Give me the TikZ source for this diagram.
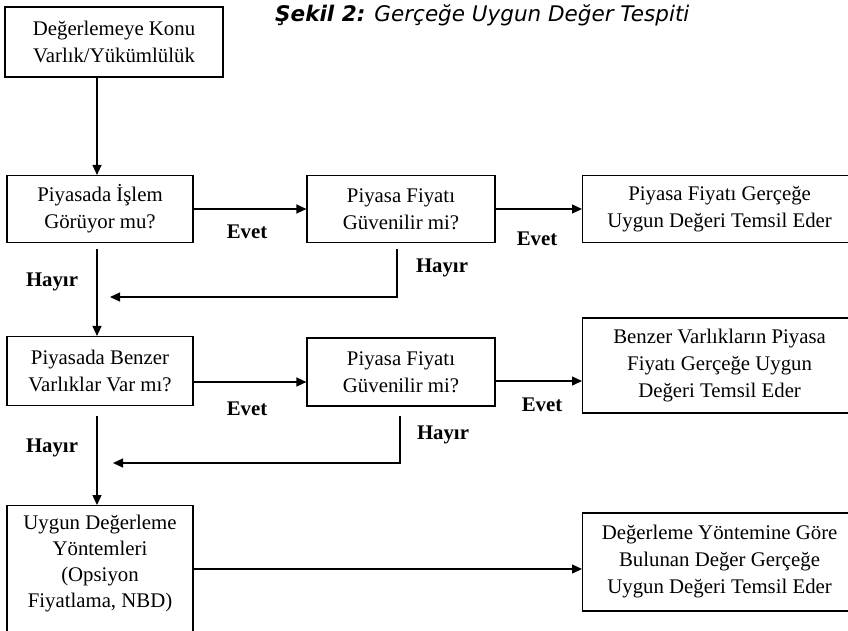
\documentclass[tikz,border=0pt]{standalone}
\usepackage{fontspec}
\setmainfont{Liberation Serif}
\newfontfamily\titlefont{DejaVu Sans}
\usetikzlibrary{arrows.meta,calc}
\begin{document}
\begin{tikzpicture}[x=1pt,y=-1pt,
  box/.style={draw, line width=1.2pt, inner sep=0pt, align=center, font=\fontsize{20.8}{27}\selectfont},
  txt/.style={inner sep=0pt, align=center, font=\fontsize{20.8}{26}\selectfont},
  lbl/.style={font=\fontsize{20.8}{24}\selectfont\bfseries, inner sep=0pt},
  arr/.style={line width=1.3pt, -{Triangle[length=10pt,width=9pt]}},
  ln/.style={line width=1.3pt}]
\useasboundingbox (0,0) rectangle (848,630);
\clip (0,0) rectangle (848,630);

% title
\node[anchor=base west, inner sep=0pt, font=\titlefont\fontsize{21.5}{25}\selectfont\itshape] (title) at (275,21)
  {{\bfseries Şekil 2:} Gerçeğe Uygun Değer Tespiti};

% boxes
\node[box, minimum width=218, minimum height=70] (A) at (114,42) {Değerlemeye Konu\\Varlık/Yükümlülük};
\node[box, minimum width=186, minimum height=67] (B) at (100,209) {Piyasada İşlem\\Görüyor mu?};
\node[box, minimum width=188, minimum height=67] (C) at (401,209) {Piyasa Fiyatı\\Güvenilir mi?};
\node[box, anchor=west, minimum width=274, minimum height=67] (D) at (582,209) {Piyasa Fiyatı Gerçeğe\\Uygun Değeri Temsil Eder};
\node[box, minimum width=186, minimum height=69] (E) at (100,371) {Piyasada Benzer\\Varlıklar Var mı?};
\node[box, minimum width=188, minimum height=68] (F) at (401,372) {Piyasa Fiyatı\\Güvenilir mi?};
\node[box, anchor=west, minimum width=274, minimum height=95] (G) at (582,365.5) {Benzer Varlıkların Piyasa\\Fiyatı Gerçeğe Uygun\\Değeri Temsil Eder};
\node[box, anchor=north, minimum width=186, minimum height=160] (H) at (100,505) {};
\node[txt] (Htext) at (100,563.5) {Uygun Değerleme\\Yöntemleri\\(Opsiyon\\Fiyatlama, NBD)};
\node[box, anchor=west, minimum width=274, minimum height=98] (I) at (582,562) {Değerleme Yöntemine Göre\\Bulunan Değer Gerçeğe\\Uygun Değeri Temsil Eder};

% labels
\node[lbl] (e1) at (247,232) {Evet};
\node[lbl] (e2) at (537,239) {Evet};
\node[lbl] (e3) at (247,409) {Evet};
\node[lbl] (e4) at (542,405) {Evet};
\node[lbl] (h1) at (52,282) {Hayır};
\node[lbl] (h2) at (442,268) {Hayır};
\node[lbl] (h3) at (52,448) {Hayır};
\node[lbl] (h4) at (443,435) {Hayır};

% helper coordinates
\coordinate (vx) at (97,0);
\coordinate (cx) at (397,0);
\coordinate (r1) at (110,297);
\coordinate (cx2) at (400,0);
\coordinate (r2) at (113,463);
\coordinate (ey) at (0,382);
\coordinate (fy) at (0,381);
\coordinate (hy) at (0,569);

% connectors
\draw[arr] (A.south -| vx) -- (B.north -| vx);
\draw[arr] (B.east) -- (C.west);
\draw[arr] (C.east) -- (D.west);
\draw[arr, shorten <=6pt] (B.south -| vx) -- (E.north -| vx);
\draw[arr, shorten <=6pt] (C.south -| cx) |- (r1);
\draw[arr] (E.east |- ey) -- (F.west |- ey);
\draw[arr] (F.east |- fy) -- (G.west |- fy);
\draw[arr, shorten <=10pt] (E.south -| vx) -- (H.north -| vx);
\draw[arr, shorten <=9pt] (F.south -| cx2) |- (r2);
\draw[arr] (H.east |- hy) -- (I.west |- hy);
\end{tikzpicture}
\end{document}
